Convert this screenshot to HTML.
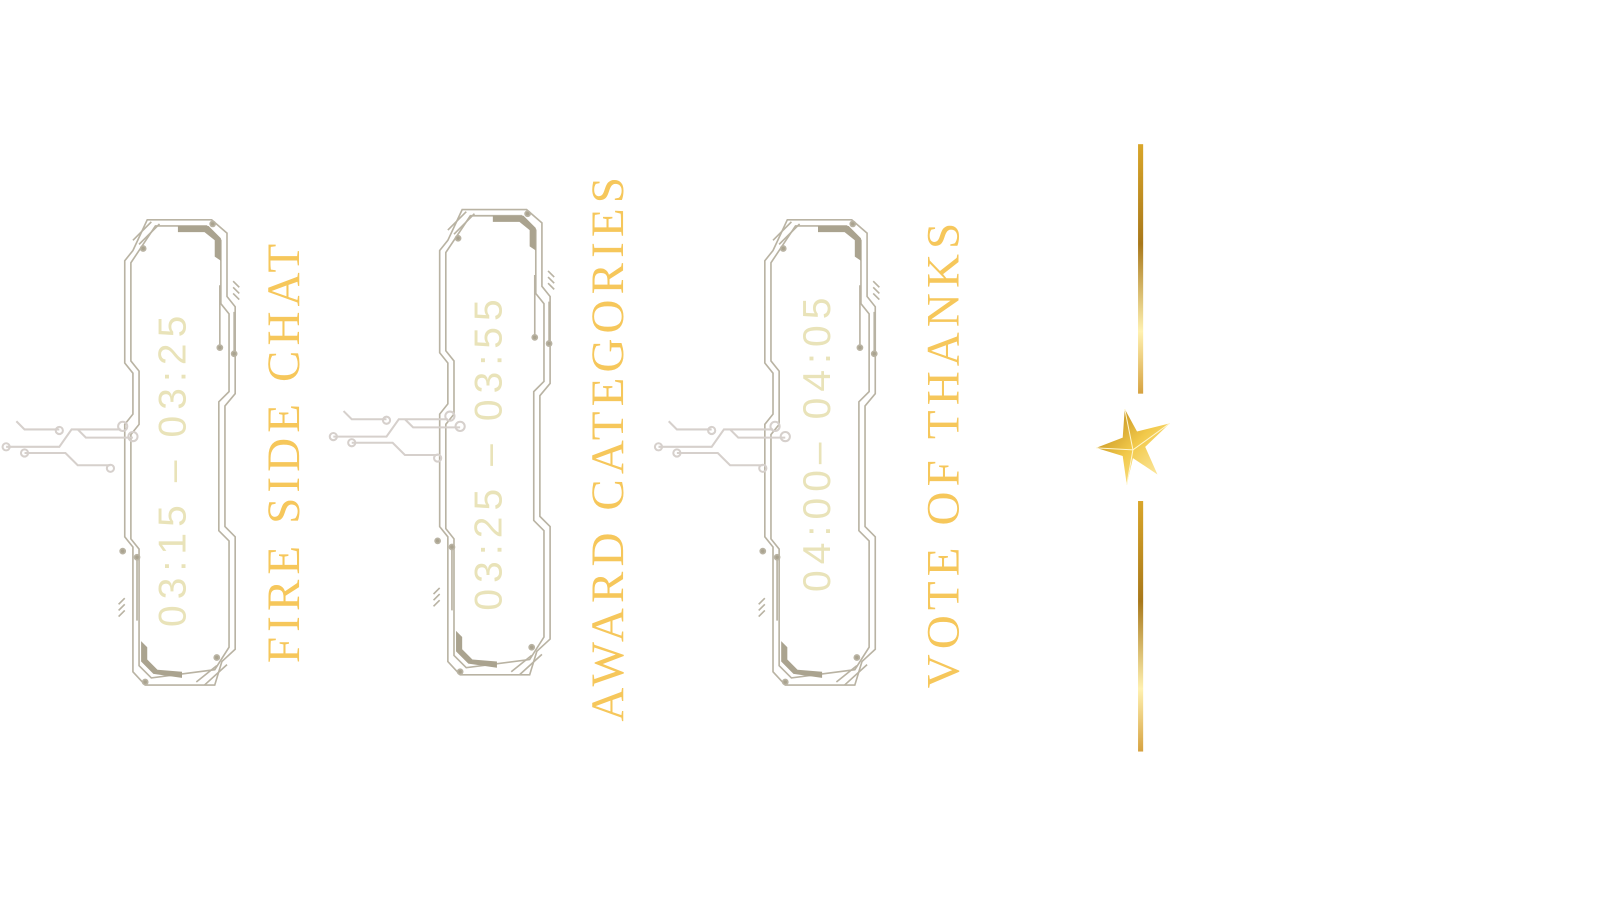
<!DOCTYPE html>
<html><head><meta charset="utf-8"><style>
body{margin:0;background:#fff;width:1600px;height:900px;overflow:hidden;font-family:"Liberation Sans",sans-serif}
#w{position:absolute;left:0;top:0;width:1600px;height:900px;transform:scale(1.0225);transform-origin:0 0}
.t{position:absolute;white-space:nowrap;transform:translate(-50%,-50%) rotate(-90deg);}
.time{color:#e9e3b9;font-size:38px;letter-spacing:6px}
.ttl{color:#f6c75b;font-size:46px;letter-spacing:5px;font-family:"Liberation Serif",serif}
</style></head><body><div id="w">
<svg width="1600" height="900" style="position:absolute;left:0;top:0">
<defs>
<linearGradient id="g" x1="0" y1="0" x2="0" y2="1">
<stop offset="0" stop-color="#d9a62a"/><stop offset=".4" stop-color="#a8781a"/><stop offset=".75" stop-color="#fff1b0"/><stop offset="1" stop-color="#d6a240"/></linearGradient>
<linearGradient id="s" x1="0" y1="0" x2="1" y2="1">
<stop offset="0" stop-color="#b07a10"/><stop offset=".5" stop-color="#f2c94a"/><stop offset="1" stop-color="#fff3c0"/></linearGradient>
<g id="f" fill="none" stroke="#b9b3a3" stroke-width="1.6">
<path d="M22,0 L85,0 L100,13 L100,75 L108,85 L108,170 L98,182 L98,300 L108,310 L108,420 L95,432 L88,455 L20,455 L8,442 L8,320 L0,310 L0,200 L8,190 L8,150 L0,140 L0,40 L8,30 Z"/>
<path d="M30,6 L80,6 L94,20 L94,82 L102,92 L102,168 L92,178 L92,304 L102,314 L102,418 L88,440 L26,448 L14,436 L14,322 L6,312 L6,210 L14,200 L14,148 L6,138 L6,42 Z"/>
<path d="M52,6 L82,6 L94,18 L94,40 L88,36 L88,20 L78,12 L52,12 Z" fill="#aaa38f" stroke="none"/>
<path d="M16,412 L16,432 L28,444 L56,448 L56,442 L32,440 L22,430 L22,418 Z" fill="#aaa38f" stroke="none"/>
<path d="M8,20 L26,2 M14,24 L34,4 M70,452 L90,436 M78,455 L100,435"/>
<path d="M93,125 V64 M12,330 V392 M107,134 V90"/>
<circle cx="93" cy="125" r="2.5" fill="#aaa38f"/><circle cx="107" cy="131" r="2.5" fill="#aaa38f"/>
<circle cx="12" cy="330" r="2.5" fill="#aaa38f"/><circle cx="-2" cy="324" r="2.5" fill="#aaa38f"/>
<circle cx="86" cy="4" r="2.5" fill="#aaa38f"/><circle cx="18" cy="28" r="2.5" fill="#aaa38f"/>
<circle cx="90" cy="428" r="2.5" fill="#aaa38f"/><circle cx="20" cy="452" r="2.5" fill="#aaa38f"/>
<path d="M106,60 L112,66 M106,66 L112,72 M106,72 L112,78 M0,370 L-6,376 M0,376 L-6,382 M0,382 L-6,388" />
</g>
<g id="c" fill="none" stroke="#d6d0cc" stroke-width="2">
<path d="M16,412 L24,420 L58,420 M6,437 L58,437 L70,420 L118,420 M24,443 L64,443 L76,455 L108,455 M76,420 L84,428 L130,428"/>
<circle cx="58" cy="421" r="3.5"/><circle cx="6" cy="437" r="3.5"/><circle cx="24" cy="443" r="3.5"/><circle cx="108" cy="458" r="3.5"/><circle cx="120" cy="417" r="4.5"/><circle cx="130" cy="427" r="4.5"/>
</g>
</defs>
<use href="#f" x="122" y="215"/><use href="#c"/>
<use href="#f" x="430" y="205"/><use href="#c" x="320" y="-10"/>
<use href="#f" x="748" y="215"/><use href="#c" x="638" y="0"/>
<rect x="1113" y="141" width="5" height="244" fill="url(#g)"/>
<rect x="1113" y="490" width="5" height="245" fill="url(#g)"/>
<path d="M1100,400 L1112,422 L1144,414 L1120,437 L1132,464 L1108,448 L1102,474 L1098,446 L1072,438 L1098,428 Z" fill="url(#s)"/>
<path d="M1100,400 L1108,440 L1144,414 M1108,440 L1102,474 M1108,440 L1072,438" stroke="#fff6cf" stroke-width="1" fill="none"/>
</svg>
<div class="t time" style="left:170px;top:458px">03:15 – 03:25</div>
<div class="t ttl" style="left:277px;top:441px">FIRE SIDE CHAT</div>
<div class="t time" style="left:479px;top:442px">03:25 – 03:55</div>
<div class="t ttl" style="left:594px;top:437px">AWARD CATEGORIES</div>
<div class="t time" style="left:800px;top:432px">04:00– 04:05</div>
<div class="t ttl" style="left:922px;top:443px">VOTE OF THANKS</div>
</div></body></html>
